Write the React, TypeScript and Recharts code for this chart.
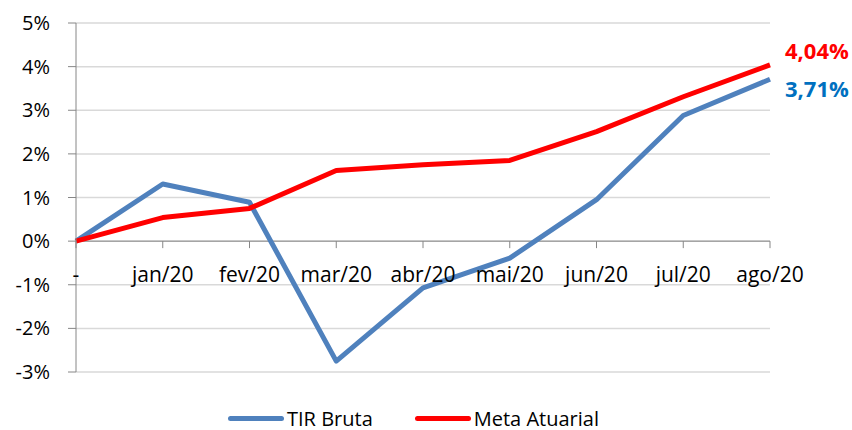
import { LineChart, Line, XAxis, YAxis, CartesianGrid, ReferenceLine, Legend } from 'recharts';

// categorias e séries
const categorias = ['-', 'jan/20', 'fev/20', 'mar/20', 'abr/20', 'mai/20', 'jun/20', 'jul/20', 'ago/20'];
const tirBruta = [0, 1.31, 0.89, -2.75, -1.07, -0.39, 0.95, 2.88, 3.71];
const metaAtuarial = [0, 0.54, 0.75, 1.62, 1.75, 1.85, 2.51, 3.31, 4.04];
const yTicks = [-3, -2, -1, 0, 1, 2, 3, 4, 5];

const data = categorias.map((mes, i) => ({ mes, tir: tirBruta[i], meta: metaAtuarial[i] }));

const W = 852;
const H = 430;
const TOP = 23;
const PLOT_H = 349;
const Y_MIN = -3;
const Y_MAX = 5;
// linha do zero (eixo x cruza em 0%)
const ZERO_Y = TOP + (PLOT_H * Y_MAX) / (Y_MAX - Y_MIN);

const FONT = '"Open Sans", sans-serif';
const BLUE = '#4F81BD';
const RED = '#FF0000';
const AXIS = '#868686';

const fmt = (v: number) => v.toFixed(2).replace('.', ',') + '%';

const XTick = ({ x, payload }: any) => (
  <g>
    <line x1={x} x2={x} y1={ZERO_Y} y2={ZERO_Y + 7} stroke={AXIS} strokeWidth={1} />
    <text x={x} y={ZERO_Y + 41} textAnchor="middle" fontSize={21} fontFamily={FONT} fill="#000">
      {payload.value}
    </text>
  </g>
);

const lastLabel = (color: string, dy: number) => (props: any) => {
  const { x, y, index, value } = props;
  if (index !== data.length - 1) return null;
  return (
    <text x={x + 15} y={y + dy} fontSize={22} fontWeight="bold" fontFamily={FONT} fill={color}>
      {fmt(value)}
    </text>
  );
};

const LegendContent = () => (
  <div style={{ display: 'flex', alignItems: 'center', gap: 42, fontFamily: FONT, fontSize: 20, color: '#000', height: 30, paddingLeft: 228, position: 'relative', top: 3 }}>
    {[
      { label: 'TIR Bruta', color: BLUE },
      { label: 'Meta Atuarial', color: RED },
    ].map((it) => (
      <div key={it.label} style={{ display: 'flex', alignItems: 'center' }}>
        <div style={{ width: 56, height: 5, borderRadius: 3, background: it.color, marginRight: 3 }} />
        <span>{it.label}</span>
      </div>
    ))}
  </div>
);

export default function App() {
  return (
    <div style={{ position: 'absolute', left: 0, top: 0, width: W, height: H, background: '#fff' }}>
      <LineChart width={W} height={H} data={data} margin={{ top: TOP, right: 82, left: 0, bottom: 0 }}>
        <CartesianGrid vertical={false} stroke="#D9D9D9" strokeWidth={1.5} />
        <XAxis dataKey="mes" height={28} axisLine={false} tickLine={false} tick={<XTick />} interval={0} />
        <YAxis
          domain={[Y_MIN, Y_MAX]}
          ticks={yTicks}
          width={76}
          tickSize={8}
          tickMargin={18}
          stroke={AXIS}
          tick={{ fill: '#000', fontSize: 20, fontFamily: FONT }}
          tickFormatter={(v: number) => `${v}%`}
        />
        <ReferenceLine y={0} stroke={AXIS} strokeWidth={1} />
        <Legend verticalAlign="bottom" height={30} content={<LegendContent />} />
        <Line
          type="linear"
          dataKey="tir"
          name="TIR Bruta"
          stroke={BLUE}
          strokeWidth={5}
          strokeLinejoin="round"
          dot={false}
          isAnimationActive={false}
          label={lastLabel('#0070C0', 18)}
        />
        <Line
          type="linear"
          dataKey="meta"
          name="Meta Atuarial"
          stroke={RED}
          strokeWidth={5}
          strokeLinejoin="round"
          dot={false}
          isAnimationActive={false}
          label={lastLabel(RED, -6)}
        />
      </LineChart>
    </div>
  );
}
